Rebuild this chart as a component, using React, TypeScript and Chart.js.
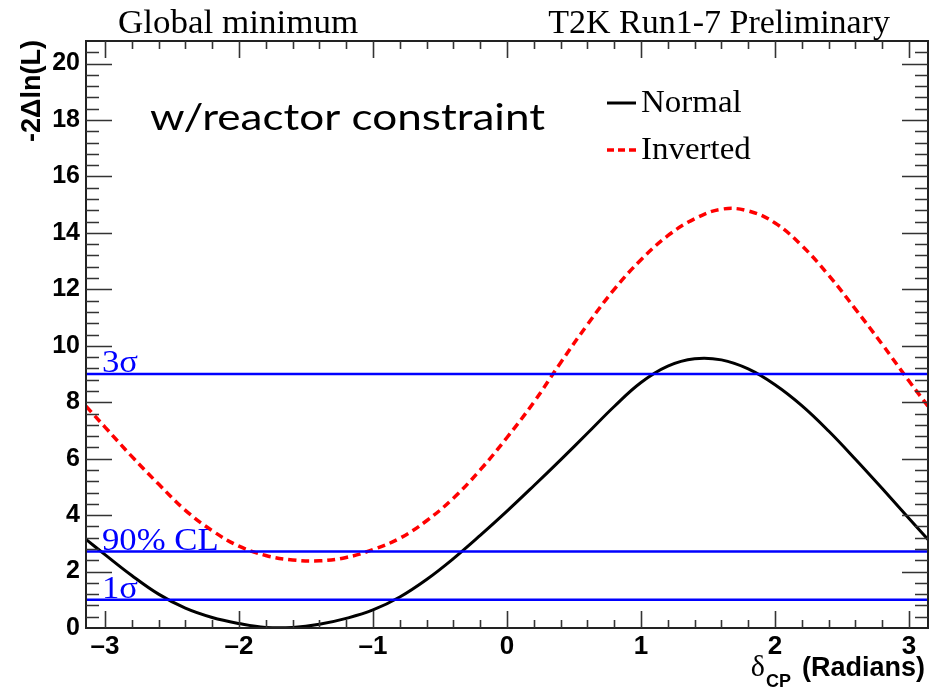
import React, { useEffect, useRef } from "react";
import { Chart, registerables } from "chart.js";

Chart.register(...registerables);

// ---------------- data ----------------
const deltaCP = [
  -3.1416, -3.0, -2.8, -2.6, -2.4, -2.2, -2.0, -1.8, -1.6, -1.4, -1.2, -1.0, -0.8,
  -0.6, -0.4, -0.2, 0.0, 0.2, 0.4, 0.6, 0.8, 1.0, 1.2, 1.4, 1.6, 1.8, 2.0, 2.2,
  2.4, 2.6, 2.8, 3.0, 3.1416,
];
const normalChi2 = [
  3.14, 2.6, 1.86, 1.2, 0.7, 0.37, 0.16, 0.02, 0.02, 0.13, 0.34, 0.64, 1.1,
  1.72, 2.46, 3.28, 4.14, 5.04, 5.96, 6.9, 7.85, 8.7, 9.28, 9.54, 9.5, 9.18, 8.62,
  7.88, 6.98, 5.98, 4.94, 3.88, 3.14,
];
const invertedChi2 = [
  7.86, 7.12, 6.08, 5.1, 4.17, 3.45, 2.9, 2.57, 2.41, 2.38, 2.5, 2.78, 3.18,
  3.8, 4.6, 5.6, 6.75, 8.0, 9.4, 10.75, 12.0, 13.05, 13.9, 14.5, 14.84,
  14.78, 14.35, 13.55, 12.5, 11.3, 10.05, 8.75, 7.86,
];
const seriesNames = ["Normal", "Inverted"];
const clLevels = [1.0, 2.71, 9.0];
const clLabels = ["1\u03C3", "90% CL", "3\u03C3"];
const xTickValues = [-3, -2, -1, 0, 1, 2, 3];
const yTickValues = [0, 2, 4, 6, 8, 10, 12, 14, 16, 18, 20];
const xMinorStep = 0.2;
const yMinorStep = 0.4;
const xRange = [-Math.PI, Math.PI];
const yRange = [0, 20.8];
const titleLeft = "Global minimum";
const titleRight = "T2K Run1-7 Preliminary";
const noteText = "w/reactor constraint";
const yAxisTitle = "-2\u0394ln(L)";
const xAxisTitleSymbol = "\u03B4";
const xAxisTitleSub = "CP";
const xAxisTitleRest = "(Radians)";

// ---------------- helpers ----------------
function drawText(
  ctx: CanvasRenderingContext2D,
  text: string,
  x: number,
  y: number,
  font: string,
  color: string,
  align: CanvasTextAlign,
  sx = 1
) {
  ctx.save();
  ctx.font = font;
  ctx.fillStyle = color;
  ctx.textAlign = align;
  ctx.textBaseline = "alphabetic";
  ctx.translate(x, y);
  ctx.scale(sx, 1);
  ctx.fillText(text, 0, 0);
  ctx.restore();
}

const SERIF = '"Liberation Serif", "DejaVu Serif", serif';
const SANS = '"Liberation Sans", Arial, sans-serif';

const rootFramePlugin = {
  id: "rootFrame",
  afterDatasetsDraw(chart: any) {
    const { ctx, chartArea: a, scales } = chart;
    const x = scales.x;
    const y = scales.y;
    ctx.save();

    // frame
    ctx.strokeStyle = "#222";
    ctx.lineWidth = 2;
    ctx.strokeRect(a.left, a.top, a.right - a.left, a.bottom - a.top);

    // ticks (inward, on all four sides)
    ctx.lineWidth = 1.6;
    ctx.strokeStyle = "#333";
    ctx.beginPath();
    const nx = Math.round((xTickValues[xTickValues.length - 1] - xTickValues[0]) / xMinorStep);
    for (let i = 0; i <= nx; i++) {
      const v = xTickValues[0] + i * xMinorStep;
      const major = i % 5 === 0;
      const len = major ? 17 : 8;
      const px = Math.round(x.getPixelForValue(v)) + 0.5;
      ctx.moveTo(px, a.bottom);
      ctx.lineTo(px, a.bottom - len);
      ctx.moveTo(px, a.top);
      ctx.lineTo(px, a.top + len);
    }
    for (let i = 1; i * yMinorStep < yRange[1] - 0.01; i++) {
      const v = i * yMinorStep;
      const major = i % 5 === 0;
      const len = major ? 26 : 13;
      const py = Math.round(y.getPixelForValue(v)) + 0.5;
      ctx.moveTo(a.left, py);
      ctx.lineTo(a.left + len, py);
      ctx.moveTo(a.right, py);
      ctx.lineTo(a.right - len, py);
    }
    ctx.stroke();

    // confidence-level labels
    clLevels.forEach((lvl, i) => {
      drawText(ctx, clLabels[i], a.left + 16, y.getPixelForValue(lvl) - 2, `31px ${SERIF}`, "#0000ff", "left", 1.12);
    });

    // titles above the frame
    drawText(ctx, titleLeft, 118, a.top - 8, `34px ${SERIF}`, "#000", "left", 1.03);
    drawText(ctx, titleRight, 890, a.top - 8, `34px ${SERIF}`, "#000", "right", 1.0);

    // annotation
    const noteFont = `37px Lato, "Open Sans", sans-serif`;
    ctx.save();
    ctx.font = noteFont;
    const w = ctx.measureText(noteText).width;
    ctx.restore();
    drawText(ctx, noteText, a.left + 64, a.top + 89, noteFont, "#000", "left", 395 / w);

    // legend
    const lx = a.left + 521;
    ctx.save();
    ctx.strokeStyle = "#000";
    ctx.lineWidth = 3;
    ctx.beginPath();
    ctx.moveTo(lx, 103);
    ctx.lineTo(lx + 29, 103);
    ctx.stroke();
    ctx.strokeStyle = "#ff0000";
    ctx.lineWidth = 3.5;
    ctx.setLineDash([7, 4]);
    ctx.beginPath();
    ctx.moveTo(lx, 150);
    ctx.lineTo(lx + 29, 150);
    ctx.stroke();
    ctx.restore();
    drawText(ctx, seriesNames[0], lx + 34, 112, `32px ${SERIF}`, "#000", "left", 1.03);
    drawText(ctx, seriesNames[1], lx + 34, 159, `32px ${SERIF}`, "#000", "left", 1.03);

    // y axis title
    ctx.save();
    ctx.translate(33, a.top - 1);
    ctx.rotate(-Math.PI / 2);
    ctx.font = `bold 27px ${SANS}`;
    ctx.fillStyle = "#000";
    ctx.textAlign = "right";
    ctx.textBaseline = "middle";
    ctx.fillText(yAxisTitle, 0, 0);
    ctx.restore();

    // x axis title with subscript
    ctx.save();
    const fSym = `30px ${SERIF}`;
    const fSub = `bold 18px ${SANS}`;
    const fRest = `bold 27px ${SANS}`;
    ctx.font = fSym;
    const wSym = ctx.measureText(xAxisTitleSymbol).width;
    ctx.font = fSub;
    const wSub = ctx.measureText(xAxisTitleSub).width;
    ctx.font = fRest;
    const wRest = ctx.measureText(xAxisTitleRest).width;
    const gap1 = 1;
    const gap2 = 11;
    const right = a.right - 3;
    const base = 676;
    let cx = right - (wSym + gap1 + wSub + gap2 + wRest);
    ctx.fillStyle = "#000";
    ctx.textAlign = "left";
    ctx.textBaseline = "alphabetic";
    ctx.font = fSym;
    ctx.fillText(xAxisTitleSymbol, cx, base);
    cx += wSym + gap1;
    ctx.font = fSub;
    ctx.fillText(xAxisTitleSub, cx, base + 11);
    cx += wSub + gap2;
    ctx.font = fRest;
    ctx.fillText(xAxisTitleRest, cx, base);
    ctx.restore();

    ctx.restore();
  },
};

export default function App() {
  const canvasRef = useRef<HTMLCanvasElement | null>(null);

  useEffect(() => {
    document.body.style.margin = "0";
    const canvas = canvasRef.current;
    if (!canvas) return;

    const clDatasets = clLevels.map((lvl, i) => ({
      label: clLabels[i],
      data: [
        { x: xRange[0], y: lvl },
        { x: xRange[1], y: lvl },
      ],
      borderColor: "#0000ff",
      borderWidth: 2.5,
      pointRadius: 0,
      tension: 0,
      fill: false,
    }));

    const chart = new Chart(canvas, {
      type: "line",
      data: {
        datasets: [
          ...clDatasets,
          {
            label: seriesNames[0],
            data: deltaCP.map((d, i) => ({ x: d, y: normalChi2[i] })),
            borderColor: "#000000",
            borderWidth: 3,
            pointRadius: 0,
            tension: 0.4,
            fill: false,
          },
          {
            label: seriesNames[1],
            data: deltaCP.map((d, i) => ({ x: d, y: invertedChi2[i] })),
            borderColor: "#ff0000",
            borderWidth: 3.5,
            borderDash: [8, 5],
            pointRadius: 0,
            tension: 0.4,
            fill: false,
          },
        ],
      },
      options: {
        animation: false,
        responsive: false,
        devicePixelRatio: 1,
        layout: { padding: { top: 41, right: 15, left: 0, bottom: 0 } },
        plugins: {
          legend: { display: false },
          tooltip: { enabled: false },
          title: { display: false },
        },
        scales: {
          x: {
            type: "linear",
            min: xRange[0],
            max: xRange[1],
            grid: { display: false, drawTicks: false },
            border: { display: false },
            afterBuildTicks: (s: any) => {
              s.ticks = xTickValues.map((v) => ({ value: v }));
            },
            afterFit: (s: any) => {
              s.height = 62;
            },
            ticks: {
              autoSkip: false,
              maxRotation: 0,
              padding: 3,
              color: "#000",
              font: { family: SANS, size: 26, weight: "bold" },
              callback: (v: any) => (Number(v) < 0 ? "\u2013" + Math.abs(Number(v)) : String(v)),
            },
          },
          y: {
            type: "linear",
            min: yRange[0],
            max: yRange[1],
            grid: { display: false, drawTicks: false },
            border: { display: false },
            afterBuildTicks: (s: any) => {
              s.ticks = yTickValues.map((v) => ({ value: v }));
            },
            afterFit: (s: any) => {
              s.width = 86;
            },
            ticks: {
              autoSkip: false,
              padding: 6,
              color: "#000",
              font: { family: SANS, size: 25, weight: "bold" },
              callback: (v: any) => String(v),
            },
          },
        },
      },
      plugins: [rootFramePlugin],
    } as any);

    return () => chart.destroy();
  }, []);

  return (
    <div style={{ width: 943, height: 690, background: "#fff" }}>
      <canvas ref={canvasRef} width={943} height={690} style={{ display: "block" }} />
    </div>
  );
}
